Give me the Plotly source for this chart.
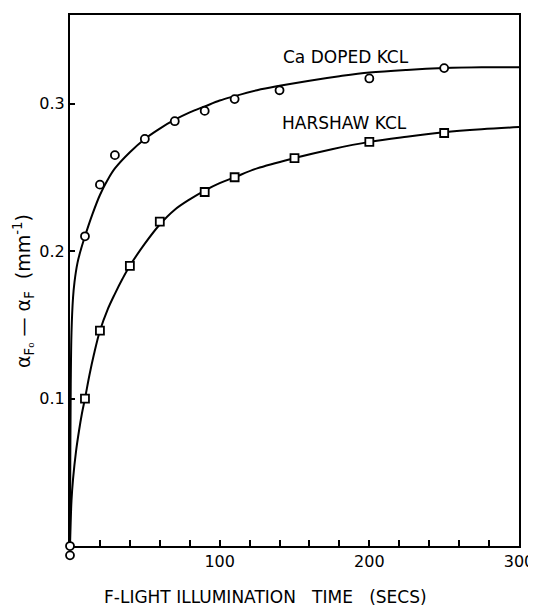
import plotly.graph_objects as go

# Measured points
ca_x = [0, 0, 10, 20, 30, 50, 70, 90, 110, 140, 200, 250]
ca_y = [0.0, -0.0063, 0.21, 0.245, 0.265, 0.276, 0.288, 0.295, 0.303, 0.309, 0.317, 0.324]

har_x = [10, 20, 40, 60, 90, 110, 150, 200, 250]
har_y = [0.100, 0.146, 0.190, 0.220, 0.240, 0.250, 0.263, 0.274, 0.280]

# Fitted curves
ca_fit_x = [0, 0.2, 0.5, 1, 2, 3, 5, 7, 10, 15, 20, 25, 30, 40, 50, 60, 70, 80, 90, 100,
            110, 125, 140, 160, 180, 200, 225, 250, 275, 300]
ca_fit_y = [0.0, 0.06, 0.11, 0.145, 0.168, 0.179, 0.192, 0.200, 0.210, 0.225, 0.238, 0.248,
            0.256, 0.267, 0.276, 0.283, 0.289, 0.294, 0.298, 0.302, 0.305, 0.309, 0.312,
            0.3155, 0.3185, 0.321, 0.3228, 0.324, 0.3245, 0.3245]

har_fit_x = [0, 1, 2, 4, 6, 8, 10, 13, 16, 20, 25, 30, 35, 40, 50, 60, 70, 80, 90, 100,
             110, 125, 150, 175, 200, 225, 250, 275, 300]
har_fit_y = [0.0, 0.031, 0.045, 0.064, 0.078, 0.090, 0.100, 0.116, 0.130, 0.146, 0.160,
             0.171, 0.181, 0.190, 0.205, 0.218, 0.228, 0.235, 0.241, 0.246, 0.250, 0.256,
             0.263, 0.269, 0.274, 0.2775, 0.2805, 0.2825, 0.284]

x_ticks = [100, 200, 300]
x_tick_text = ["100", "200", "300"]
y_ticks = [0.1, 0.2, 0.3]
y_tick_text = ["0.1", "0.2", "0.3"]

FONT = "DejaVu Sans"

# layout geometry: plot area 551 px tall; main y axis uses top 533 px
PLOT_H = 551
MAIN_H = 533
Y_MAX = 0.36
dom_bottom = (PLOT_H - MAIN_H) / PLOT_H
y2_min = -Y_MAX * (PLOT_H - MAIN_H) / MAIN_H

fig = go.Figure()
fig.add_trace(go.Scatter(x=ca_fit_x, y=ca_fit_y, mode="lines",
                         line=dict(color="black", width=2, shape="spline", smoothing=1.0),
                         hoverinfo="skip", showlegend=False))
fig.add_trace(go.Scatter(x=har_fit_x, y=har_fit_y, mode="lines",
                         line=dict(color="black", width=2, shape="spline", smoothing=1.0),
                         hoverinfo="skip", showlegend=False))
fig.add_trace(go.Scatter(x=ca_x, y=ca_y, mode="markers", cliponaxis=False, yaxis="y2",
                         marker=dict(symbol="circle", size=8, color="white",
                                     line=dict(color="black", width=1.8)),
                         showlegend=False))
fig.add_trace(go.Scatter(x=har_x, y=har_y, mode="markers", cliponaxis=False,
                         marker=dict(symbol="square", size=8, color="white",
                                     line=dict(color="black", width=1.8)),
                         showlegend=False))

fig.add_annotation(x=141, y=0.3318, xref="x", yref="y", text="Ca DOPED KCL",
                   showarrow=False, xanchor="left", yanchor="middle",
                   font=dict(family=FONT, size=17, color="black"))
fig.add_annotation(x=140.5, y=0.2865, xref="x", yref="y", text="HARSHAW KCL",
                   showarrow=False, xanchor="left", yanchor="middle",
                   font=dict(family=FONT, size=17, color="black"))

fig.add_annotation(x=0.4365, y=dom_bottom, xref="paper", yref="paper", yshift=-51,
                   text="F-LIGHT ILLUMINATION\u00a0\u00a0\u00a0TIME\u00a0\u00a0\u00a0(SECS)",
                   showarrow=False, xanchor="center", yanchor="middle",
                   font=dict(family=FONT, size=17, color="black"))
fig.add_annotation(x=0, y=(556 - 282) / PLOT_H, xref="paper", yref="paper", xshift=-46,
                   text="α<sub>F₀</sub> — α<sub>F</sub>  (mm<sup>-1</sup>)",
                   textangle=-90, showarrow=False, xanchor="center", yanchor="middle",
                   font=dict(family=FONT, size=19, color="black"))

fig.update_layout(
    width=536, height=610,
    margin=dict(l=62, r=25, t=5, b=610 - 5 - PLOT_H),
    paper_bgcolor="white", plot_bgcolor="rgba(0,0,0,0)",
    font=dict(family=FONT, size=16, color="black"),
    xaxis=dict(range=[0, 300], tickvals=x_ticks, ticktext=x_tick_text, anchor="y",
               ticks="inside", ticklen=6, tickwidth=1.5, tickcolor="black",
               minor=dict(dtick=20, tick0=0, ticks="inside", ticklen=6, tickwidth=1.5, tickcolor="black"),
               showline=True, linecolor="black", linewidth=2, mirror=True,
               showgrid=False, zeroline=False, ticklabelstandoff=0,
               tickfont=dict(family=FONT, size=16)),
    yaxis=dict(range=[0, Y_MAX], domain=[dom_bottom, 1], tickvals=y_ticks, ticktext=y_tick_text,
               ticks="inside", ticklen=5, tickwidth=1.5, tickcolor="black",
               showline=True, linecolor="black", linewidth=2, mirror=True,
               showgrid=False, zeroline=False, ticklabelstandoff=0,
               tickfont=dict(family=FONT, size=16)),
    yaxis2=dict(range=[y2_min, Y_MAX], domain=[0, 1], anchor="x", visible=False,
                showgrid=False, zeroline=False),
)

fig.write_html("out.html")
